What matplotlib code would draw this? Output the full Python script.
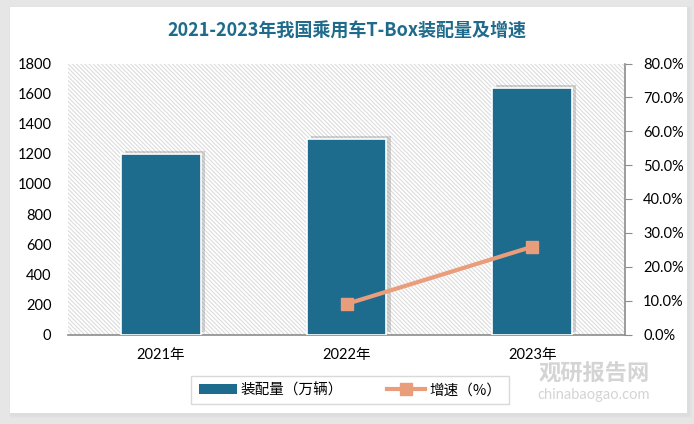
import numpy as np
import matplotlib.pyplot as plt
import matplotlib.patheffects as pe
from matplotlib.patches import Rectangle

years = ["2021年", "2022年", "2023年"]
volume = [1200, 1300, 1640]          # 装配量（万辆）
growth = [None, 9.0, 25.9]          # 增速（%）

plt.rcParams["font.family"] = ["Lato", "Noto Sans CJK SC", "DejaVu Sans"]
plt.rcParams["hatch.color"] = "#dcdcdc"
plt.rcParams["hatch.linewidth"] = 0.8

W, H = 694, 424
fig = plt.figure(figsize=(W / 100, H / 100), dpi=100, facecolor="#e6e6e6")

# white card with soft shadow
for i, a in enumerate([0.05, 0.06, 0.08]):
    d = 3 - i
    fig.patches.append(Rectangle(((10 - d + 2) / W, (H - 413 - d - 2) / H),
                                 (677 + 2 * d) / W, (406 + 2 * d) / H,
                                 transform=fig.transFigure, facecolor="#bbbbbb",
                                 alpha=a, edgecolor="none", zorder=-10))
fig.patches.append(Rectangle((10 / W, (H - 413) / H), 677 / W, 406 / H,
                             transform=fig.transFigure, facecolor="white",
                             edgecolor="none", zorder=-9))

ax = fig.add_axes([68 / W, (H - 334.5) / H, (625 - 68) / W, (334.5 - 63.5) / H])
ax.set_facecolor("none")
ax.add_patch(Rectangle((0, 0), 1, 1, transform=ax.transAxes, facecolor="white",
                       edgecolor="#dcdcdc", hatch="\\" * 8, linewidth=0, zorder=0))

x = np.arange(len(years))
bars = ax.bar(x, volume, width=0.43, color="#1d6b8d", edgecolor="white",
              linewidth=1.2, zorder=3)
for b in bars:
    b.set_path_effects([pe.SimplePatchShadow(offset=(3, 2), shadow_rgbFace="#777777",
                                             alpha=0.3), pe.Normal()])

ax.set_xlim(-0.5, 2.5)
ax.set_ylim(0, 1800)
ax.set_yticks(range(0, 1801, 200))
ax.set_xticks(x)
ax.set_xticklabels(years, fontsize=10.5)
ax.tick_params(axis="y", length=0, labelsize=10.5, pad=12)
ax.tick_params(axis="x", length=0, pad=10)
for s in ["top", "right", "left"]:
    ax.spines[s].set_visible(False)
ax.spines["bottom"].set_color("#8c8c8c")
ax.spines["bottom"].set_linewidth(1.2)

ax2 = ax.twinx()
gx = [i for i, g in enumerate(growth) if g is not None]
gy = [g for g in growth if g is not None]
line, = ax2.plot(gx, gy, color="#e99d7b", linewidth=3, marker="s", markersize=8,
                 zorder=5)
ax2.set_ylim(0, 80)
ax2.set_yticks(range(0, 81, 10))
ax2.set_yticklabels([f"{v:.1f}%" for v in range(0, 81, 10)])
ax2.tick_params(axis="y", length=5, color="#8c8c8c", labelsize=10.5, pad=8)
for s in ["top", "left", "bottom"]:
    ax2.spines[s].set_visible(False)
ax2.spines["right"].set_color("#8c8c8c")
ax2.spines["right"].set_linewidth(1.2)

fig.text(0.5, 1 - 31 / H, "2021-2023年我国乘用车T-Box装配量及增速",
         ha="center", va="center", fontsize=13, fontweight="bold", color="#1f6b8c",
         family=["Noto Sans CJK SC", "DejaVu Sans"])

# watermark
fig.text(594 / W, 1 - 374 / H, "观研报告网", ha="center", va="center", fontsize=16,
         fontweight="bold", color="#d4d4d4", family=["Noto Sans CJK SC"], zorder=-5)
fig.text(594 / W, 1 - 395 / H, "chinabaogao.com", ha="center", va="center",
         fontsize=10.5, color="#d4d4d4", zorder=-5)

leg = fig.legend([bars, line], ["装配量（万辆）", "增速（%）"], ncol=2,
                 loc="center", bbox_to_anchor=(350 / W, 1 - 390 / H),
                 frameon=True, fancybox=False, edgecolor="#d0d0d0",
                 prop={"family": ["Noto Sans CJK SC"], "size": 10.5},
                 columnspacing=3.0, handlelength=2.6, handletextpad=0.3,
                 borderpad=0.5)
leg.get_frame().set_linewidth(1.0)
for h in leg.legend_handles:
    h.set_path_effects([])
    try:
        h.set_edgecolor("none")
    except Exception:
        pass

fig.savefig("out.png", dpi=100, facecolor=fig.get_facecolor())
